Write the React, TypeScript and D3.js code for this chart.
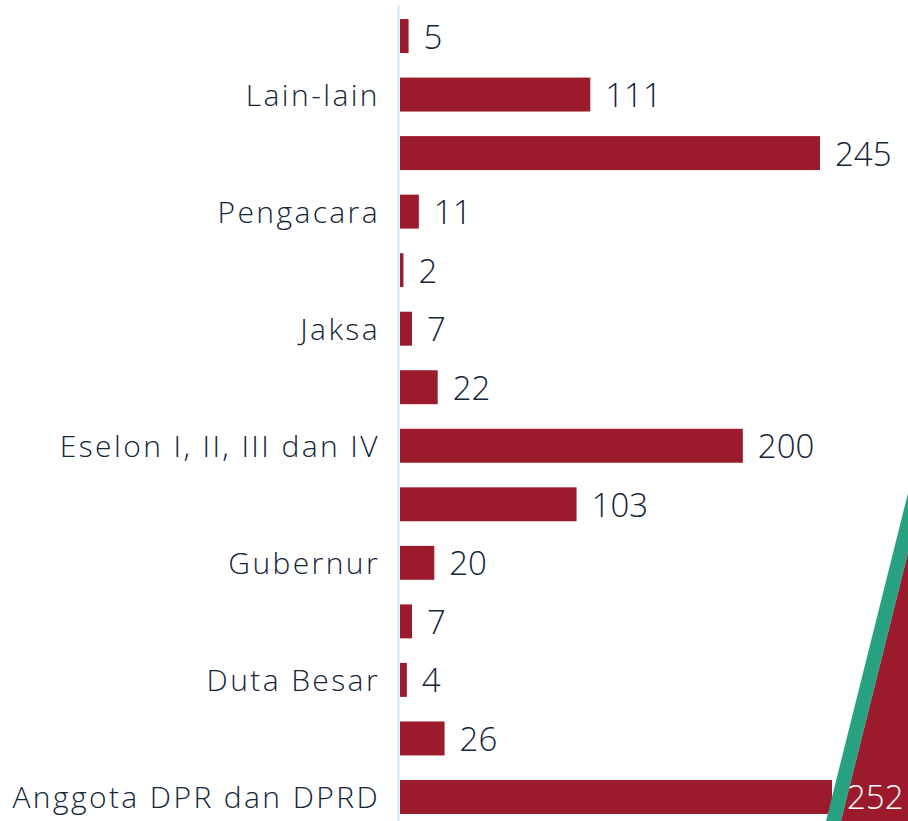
import React from "react";
import * as d3 from "d3";

const categories = [
  "Korporasi",
  "Lain-lain",
  "Swasta",
  "Pengacara",
  "Polisi",
  "Jaksa",
  "Hakim",
  "Eselon I, II, III dan IV",
  "Walikota/Bupati dan Wakil",
  "Gubernur",
  "Komisioner",
  "Duta Besar",
  "Kepala Lembaga/Kementerian",
  "Anggota DPR dan DPRD",
];
const values = [5, 111, 245, 11, 2, 7, 22, 200, 103, 20, 7, 4, 26, 252];
const shownLabels = [
  "Lain-lain",
  "Pengacara",
  "Jaksa",
  "Eselon I, II, III dan IV",
  "Gubernur",
  "Duta Besar",
  "Anggota DPR dan DPRD",
];

const W = 908;
const H = 821;
const BAR = "#9b1a2c";
const GREEN = "#27a17f";
const TEXT = "#14263a";
const FONT = "'Open Sans', sans-serif";

export default function App() {
  const y = d3
    .scaleBand<string>()
    .domain(categories)
    .range([6.75, 826.25])
    .paddingInner(0.42)
    .paddingOuter(0.21);
  const x = d3.scaleLinear().domain([0, 252]).range([400, 832]);
  const maxV = d3.max(values) as number;

  return (
    <svg
      width={W}
      height={H}
      style={{ position: "absolute", left: 0, top: 0, display: "block", background: "#fff" }}
    >
      {categories.map((c, i) => (
        <rect
          key={c}
          x={x(0)}
          y={y(c)}
          width={x(values[i]) - x(0)}
          height={y.bandwidth()}
          fill={BAR}
        />
      ))}
      <line x1={398.5} x2={398.5} y1={6} y2={H} stroke="#c9e2f7" strokeWidth={2} />
      {/* decoration */}
      <polygon points={`908,493 908,553 841,821 826,821`} fill={GREEN} />
      <polygon points={`908,553 908,821 841,821`} fill={BAR} />
      {shownLabels.map((c) => (
        <text
          key={c}
          x={380}
          y={(y(c) as number) + y.bandwidth() / 2}
          textAnchor="end"
          dominantBaseline="central"
          fontFamily={FONT}
          fontWeight={300}
          fontSize={30}
          letterSpacing={2.4}
          fill={TEXT}
        >
          {c}
        </text>
      ))}
      {categories.map((c, i) => (
        <text
          key={"v" + c}
          x={x(values[i]) + 15}
          y={(y(c) as number) + y.bandwidth() / 2}
          dominantBaseline="central"
          fontFamily={FONT}
          fontWeight={300}
          fontSize={33}
          fill={values[i] === maxV ? "#ffffff" : TEXT}
        >
          {values[i]}
        </text>
      ))}
    </svg>
  );
}
